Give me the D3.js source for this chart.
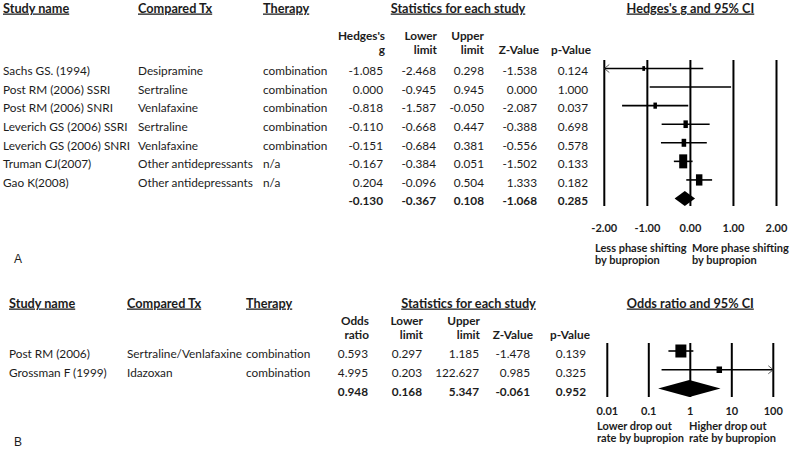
<!DOCTYPE html>
<html>
<head>
<meta charset="utf-8">
<script src="https://cdn.jsdelivr.net/npm/d3@7"></script>
<style>
  body { margin: 0; background: #fff; }
  text { font-family: Lato, "Open Sans", sans-serif; fill: #1c1c1c; white-space: pre; }
</style>
</head>
<body>
<svg id="chart" width="800" height="449"></svg>
<script>
// ---- panel A: Hedges's g
const studiesA = ['Sachs GS. (1994)', 'Post RM (2006) SSRI', 'Post RM (2006) SNRI', 'Leverich GS (2006) SSRI',
  'Leverich GS (2006) SNRI', 'Truman CJ(2007)', 'Gao K(2008)'];
const comparedA = ['Desipramine', 'Sertraline', 'Venlafaxine', 'Sertraline', 'Venlafaxine',
  'Other antidepressants', 'Other antidepressants'];
const therapyA = ['combination', 'combination', 'combination', 'combination', 'combination', 'n/a', 'n/a'];
const gA = [-1.085, 0.000, -0.818, -0.110, -0.151, -0.167, 0.204];
const lowerA = [-2.468, -0.945, -1.587, -0.668, -0.684, -0.384, -0.096];
const upperA = [0.298, 0.945, -0.050, 0.447, 0.381, 0.051, 0.504];
const zA = [-1.538, 0.000, -2.087, -0.388, -0.556, -1.502, 1.333];
const pA = [0.124, 1.000, 0.037, 0.698, 0.578, 0.133, 0.182];
const weightA = [4.4, 0.7, 7.4, 11.5, 12.5, 38.5, 25];   // relative weight (%)
const summaryA = [-0.130, -0.367, 0.108, -1.068, 0.285]; // g, lower, upper, z, p
const ticksA = [-2, -1, 0, 1, 2];

// ---- panel B: odds ratio
const studiesB = ['Post RM (2006)', 'Grossman F (1999)'];
const comparedB = ['Sertraline/Venlafaxine', 'Idazoxan'];
const therapyB = ['combination', 'combination'];
const orB = [0.593, 4.995];
const lowerB = [0.297, 0.203];
const upperB = [1.185, 122.627];
const zB = [-1.478, 0.985];
const pB = [0.139, 0.325];
const weightB = [80, 20];
const summaryB = [0.948, 0.168, 5.347, -0.061, 0.952];
const ticksB = [0.01, 0.1, 1, 10, 100];

const svg = d3.select('#chart');
// plain hyphen for negatives, like the original table
const f3 = v => d3.format('.3f')(v).replace('\u2212', '-');

function txt(x, y, s, opt = {}) {
  const t = svg.append('text')
    .attr('x', x).attr('y', y)
    .attr('font-size', opt.size || 11.8)
    .attr('font-weight', opt.bold ? 'bold' : 'normal')
    .attr('text-anchor', opt.anchor || 'start')
    .text(s);
  if (opt.underline) t.style('text-decoration', 'underline');
  if (opt.family) t.style('font-family', opt.family);
  return t;
}

function panel(cfg) {
  const { x, y, top, cols, rowsText, vals, lo, hi, w, summary, sizeW, sizeH, dHalf } = cfg;
  const title = { bold: true, underline: true, size: 12.7 };

  // headers
  txt(cols.study, cfg.hdrY, 'Study name', title);
  txt(cols.comp, cfg.hdrY, 'Compared Tx', title);
  txt(cols.ther, cfg.hdrY, 'Therapy', title);
  txt(cfg.statsX, cfg.hdrY, 'Statistics for each study', { ...title, anchor: 'middle' });
  txt(x(cfg.center), cfg.hdrY, cfg.plotTitle, { ...title, anchor: 'middle' });
  cfg.headers.forEach((h, j) => {
    h.forEach((line, k) => {
      txt(cfg.hdrRight[j], cfg.hdr2Y - (h.length - 1 - k) * cfg.hdrGap, line, { bold: true, anchor: 'end' });
    });
  });

  // study rows
  const n = rowsText[0].length;
  for (let i = 0; i < n; i++) {
    const ty = y(i) + cfg.textOff;
    txt(cols.study, ty, rowsText[0][i]);
    txt(cols.comp, ty, rowsText[1][i]);
    txt(cols.ther, ty, rowsText[2][i]);
    cfg.numCols.forEach((arr, j) => txt(cfg.valRight[j], ty, f3(arr[i]), { anchor: 'end' }));
  }
  summary.forEach((v, j) => txt(cfg.valRight[j], y(n) + cfg.textOff, f3(v), { bold: true, anchor: 'end' }));

  // reference lines at ticks
  const [d0, d1] = x.domain();
  svg.append('g').selectAll('line').data(cfg.ticks).join('line')
    .attr('x1', d => x(d)).attr('x2', d => x(d))
    .attr('y1', top).attr('y2', cfg.bottom)
    .attr('stroke', '#000').attr('stroke-width', 2);

  // tick labels
  cfg.ticks.forEach(t => txt(x(t), cfg.tickY, cfg.tickFmt(t), { bold: true, anchor: 'middle', size: 11 }));

  // CI lines
  const g = svg.append('g');
  for (let i = 0; i < n; i++) {
    const a = Math.max(lo[i], d0), b = Math.min(hi[i], d1);
    g.append('line').attr('x1', x(a)).attr('x2', x(b)).attr('y1', y(i)).attr('y2', y(i))
      .attr('stroke', '#000').attr('stroke-width', 1.6);
    if (lo[i] < d0) {
      const ax = x(d0);
      g.append('path').attr('d', `M${ax + 5},${y(i) - 4}L${ax},${y(i)}L${ax + 5},${y(i) + 4}`)
        .attr('fill', 'none').attr('stroke', '#333').attr('stroke-width', 0.8);
    }
    if (hi[i] > d1) {
      const ax = x(d1);
      g.append('path').attr('d', `M${ax - 5},${y(i) - 4}L${ax},${y(i)}L${ax - 5},${y(i) + 4}`)
        .attr('fill', 'none').attr('stroke', '#333').attr('stroke-width', 0.8);
    }
    const bw = sizeW(w[i]), bh = sizeH(w[i]);
    g.append('rect').attr('x', x(vals[i]) - bw / 2).attr('y', y(i) - bh / 2)
      .attr('width', bw).attr('height', bh).attr('fill', '#000');
  }

  // summary diamond
  const sy = y(n);
  g.append('path')
    .attr('d', `M${x(summary[1])},${sy}L${x(summary[0])},${sy - dHalf}L${x(summary[2])},${sy}L${x(summary[0])},${sy + dHalf}Z`)
    .attr('fill', '#000');

  // direction labels
  cfg.dirLabels.forEach((lines, j) => lines.forEach((s, k) =>
    txt(cfg.dirX[j], cfg.dirY + k * cfg.dirGap, s, { bold: true, size: 11 })));

  txt(14, cfg.letterY, cfg.letter, { size: 12, family: 'Liberation Sans, Arial, sans-serif' });
}

// ---- panel A
const xA = d3.scaleLinear().domain([-2, 2]).range([604.3, 776.5]);
const yA = d3.scaleLinear().domain([0, 7]).range([68.5, 198.5]);
panel({
  x: xA, y: yA, top: 60, bottom: 206, center: 0,
  cols: { study: 3, comp: 138, ther: 263 },
  hdrY: 12.5, statsX: 458, plotTitle: "Hedges's g and 95% CI",
  headers: [["Hedges's", 'g'], ['Lower', 'limit'], ['Upper', 'limit'], ['Z-Value'], ['p-Value']],
  hdrRight: [385, 437, 484, 539, 591], hdr2Y: 53.5, hdrGap: 13.5,
  rowsText: [studiesA, comparedA, therapyA],
  numCols: [gA, lowerA, upperA, zA, pA], valRight: [383, 436, 484, 537, 588],
  textOff: 6.8,
  vals: gA, lo: lowerA, hi: upperA, w: weightA, summary: summaryA,
  sizeW: d3.scaleSqrt().domain([0, 38.5]).range([0, 8]),
  sizeH: d3.scaleSqrt().domain([0, 38.5]).range([0, 14]),
  dHalf: 7.5,
  ticks: ticksA, tickY: 231.5, tickFmt: v => d3.format('.2f')(v).replace('\u2212', '-'),
  dirLabels: [['Less phase shifting', 'by bupropion'], ['More phase shifting', 'by bupropion']],
  dirX: [595, 692], dirY: 251.5, dirGap: 12,
  letter: 'A', letterY: 263
});

// ---- panel B
const xB = d3.scaleLog().domain([0.01, 100]).range([607.3, 773.3]);
const yB = d3.scaleLinear().domain([0, 2]).range([351, 388.5]);
panel({
  x: xB, y: yB, top: 343, bottom: 397, center: 1,
  cols: { study: 9, comp: 127, ther: 246 },
  hdrY: 307.5, statsX: 468.5, plotTitle: 'Odds ratio and 95% CI',
  headers: [['Odds', 'ratio'], ['Lower', 'limit'], ['Upper', 'limit'], ['Z-Value'], ['p-Value']],
  hdrRight: [369, 423, 480, 533, 590], hdr2Y: 338.5, hdrGap: 13.6,
  rowsText: [studiesB, comparedB, therapyB],
  numCols: [orB, lowerB, upperB, zB, pB], valRight: [368, 422, 479, 530, 586],
  textOff: 7,
  vals: orB, lo: lowerB, hi: upperB, w: weightB, summary: summaryB,
  sizeW: d3.scaleSqrt().domain([0, 80]).range([0, 11]),
  sizeH: d3.scaleSqrt().domain([0, 80]).range([0, 13]),
  dHalf: 8.5,
  ticks: ticksB, tickY: 414.5, tickFmt: d => String(d),
  dirLabels: [['Lower drop out', 'rate by bupropion'], ['Higher drop out', 'rate by bupropion']],
  dirX: [597, 689], dirY: 430, dirGap: 11.5,
  letter: 'B', letterY: 446
});
</script>
</body>
</html>
